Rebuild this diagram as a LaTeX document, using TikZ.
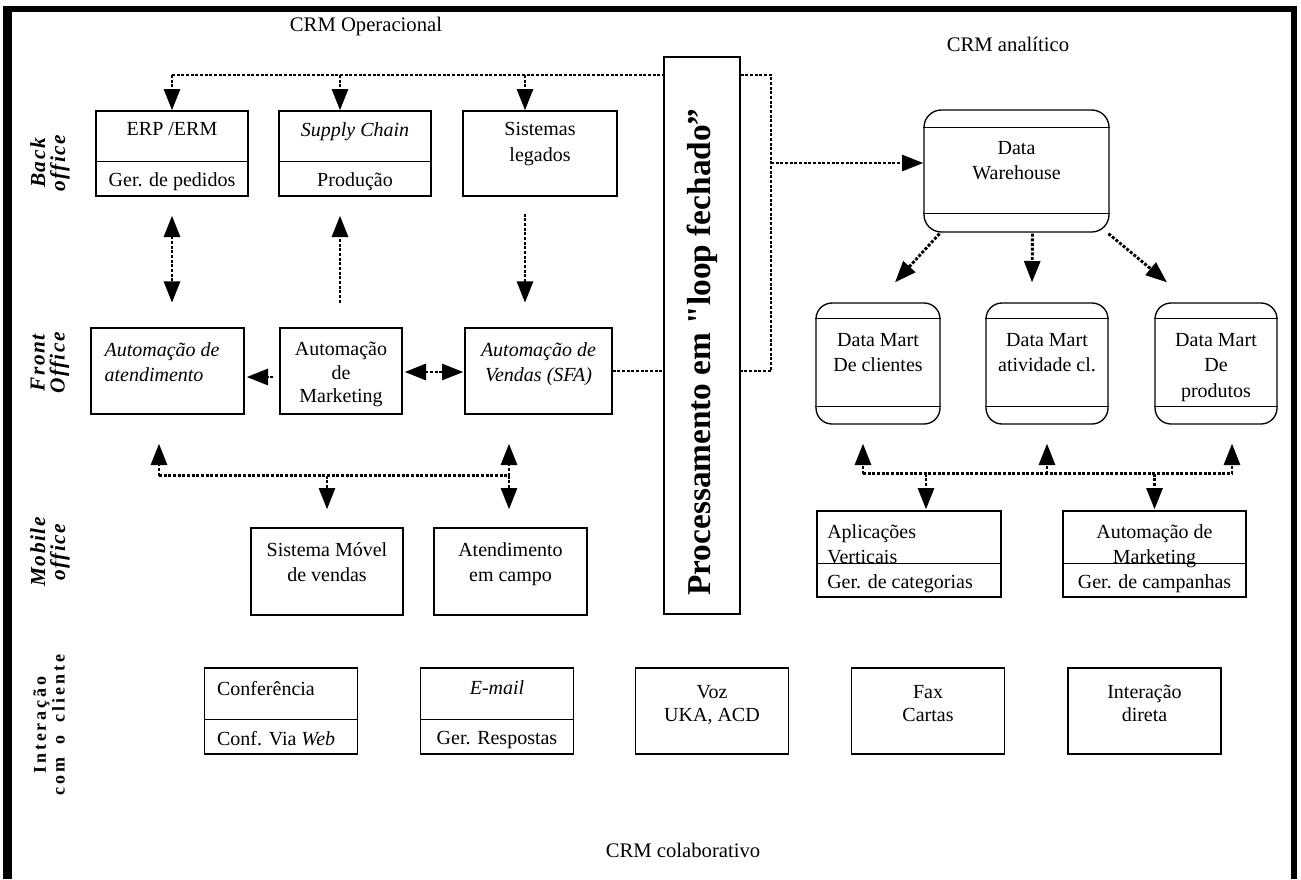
\documentclass[tikz,border=0pt]{standalone}
\usepackage{fontspec}
\setmainfont{Liberation Serif}
\newfontfamily\fonteRotulo[LetterSpace=7]{Liberation Serif}
\newfontfamily\fonteRotuloLargo[LetterSpace=16,WordSpace=1.8]{Liberation Serif}
\newfontfamily\fonteLoop[Ligatures=TeXOff]{Liberation Serif}
\usetikzlibrary{arrows.meta}
\usetikzlibrary{positioning}
\usetikzlibrary{calc}

\newcommand{\fonteCaixa}{\fontsize{15}{19}\selectfont}
\newcommand{\fonteTitulo}{\fontsize{15.5}{19}\selectfont}

\tikzset{
  caixa/.style={draw, line width=1pt, inner sep=0pt},
  divisa/.style={line width=1pt},
  texto/.style={inner sep=0pt, align=center, font=\fonteCaixa},
  pontos/.style={line width=2.2pt, dash pattern=on 2.2pt off 1.3pt},
  seta/.style={pontos, -{Triangle[length=16pt,width=12pt]}},
  setadupla/.style={pontos, {Triangle[length=16pt,width=12pt]}-{Triangle[length=16pt,width=12pt]}},
  rotulo/.style={inner sep=0pt, align=center, rotate=90, font={\fonteRotulo\fontsize{16}{15}\selectfont\bfseries\itshape}},
  rotuloLargo/.style={inner sep=0pt, align=center, rotate=90, font={\fonteRotuloLargo\fontsize{13.5}{14}\selectfont\bfseries}},
}

\begin{document}
\begin{tikzpicture}[x=0.75pt,y=0.75pt,yscale=-1,xscale=1]
\useasboundingbox (0,0) rectangle (1301,879);

%Shape: Frame
\fill (3,6) rectangle (1297,12);
\fill (3,6) rectangle (12,879);
\fill (1291,6) rectangle (1297,879);

% Text Node
\node[font=\fonteTitulo] (tOper) at (366,27) {CRM Operacional};
\node[font=\fonteTitulo] (tAnal) at (1008,44) {CRM analítico};
\node[font=\fonteTitulo] (tColab) at (683,850) {CRM colaborativo};

% Text Node
\node[rotulo] (rBack) at (50,163) {Back\\office};
\node[rotulo] (rFront) at (50,363) {Front\\Office};
\node[rotulo] (rMobile) at (50,552) {Mobile\\office};
\node[rotuloLargo] (rInter) at (49,725) {Interação\\com o cliente};

%Shape: Rectangle
\node[caixa, minimum width=114pt, minimum height=63.75pt] (erp) at (172,153.5) {};
\node[caixa, minimum width=114pt, minimum height=63.75pt] (supply) at (355,153.5) {};
\node[caixa, minimum width=115.5pt, minimum height=63.75pt] (legados) at (540,153.5) {};
\coordinate (erpD) at ($(erp.north)+(0,51)$);
\coordinate (supplyD) at ($(supply.north)+(0,51)$);
\draw[divisa] (erp.west |- erpD) -- (erp.east |- erpD);
\draw[divisa] (supply.west |- supplyD) -- (supply.east |- supplyD);
\node[texto, below=9pt of erp.north] (erpA) {ERP /ERM};
\node[texto, below=8.5pt of erpD] (erpB) {Ger. de pedidos};
\node[texto, below=9pt of supply.north] (supplyA) {\itshape Supply Chain};
\node[texto, below=8.5pt of supplyD] (supplyB) {Produção};
\node[texto, below=9pt of legados.north] (legadosT) {Sistemas\\legados};

%Shape: Rectangle
\node[caixa, minimum width=114.75pt, minimum height=64.5pt] (atend) at (167.5,371) {};
\node[caixa, minimum width=91.5pt, minimum height=64.5pt] (mkt) at (341,371) {};
\node[caixa, minimum width=110.25pt, minimum height=64.5pt] (sfa) at (538.5,371) {};
\node[texto, align=left, anchor=north west, below right=11pt and 10.5pt of atend.north west] (atendT) {\itshape Automação de\\\itshape atendimento};
\node[texto, below=11pt of mkt.north, font={\fontsize{15}{17.5}\selectfont}] (mktT) {Automação\\de\\Marketing};
\node[texto, below=11pt of sfa.north] (sfaT) {\itshape Automação de\\\itshape Vendas (SFA)};

%Shape: Rectangle
\node[caixa, minimum width=114pt, minimum height=65.25pt] (movel) at (327,571.5) {};
\node[caixa, minimum width=114.75pt, minimum height=65.25pt] (campo) at (510.5,571.5) {};
\node[texto, below=11pt of movel.north] (movelT) {Sistema Móvel\\de vendas};
\node[texto, below=11pt of campo.north] (campoT) {Atendimento\\em campo};

%Shape: Rectangle
\node[caixa, minimum width=57pt, minimum height=417.75pt] (loop) at (702,335.5) {};
\node[inner sep=0pt, rotate=90, font={\fonteLoop\fontsize{25}{25}\selectfont\bfseries}] (loopT) at (702,352) {Processamento em "loop fechado”};

%Shape: Rounded Rectangle
\node[caixa, rounded corners=13pt, minimum width=138.75pt, minimum height=91.5pt] (dw) at (1016.5,171) {};
\draw[divisa] ($(dw.north west)+(0,18)$) -- ($(dw.north east)+(0,18)$);
\draw[divisa] ($(dw.south west)+(0,-19)$) -- ($(dw.south east)+(0,-19)$);
\node[texto, below=23.5pt of dw.north] (dwT) {Data\\Warehouse};

\node[caixa, rounded corners=12pt, minimum width=93pt, minimum height=90.75pt] (dm1) at (878,363.5) {};
\node[caixa, rounded corners=12pt, minimum width=91.5pt, minimum height=90.75pt] (dm2) at (1047,363.5) {};
\node[caixa, rounded corners=12pt, minimum width=91.5pt, minimum height=90.75pt] (dm3) at (1216,363.5) {};
\foreach \m in {dm1,dm2,dm3}{
  \draw[divisa] ($(\m.north west)+(0,16)$) -- ($(\m.north east)+(0,16)$);
  \draw[divisa] ($(\m.south west)+(0,-18)$) -- ($(\m.south east)+(0,-18)$);
}
\node[texto, below=23pt of dm1.north] (dm1T) {Data Mart\\De clientes};
\node[texto, below=23pt of dm2.north] (dm2T) {Data Mart\\atividade cl.};
\node[texto, below=23pt of dm3.north] (dm3T) {Data Mart\\De\\produtos};

%Shape: Rectangle
\node[caixa, minimum width=138pt, minimum height=64.5pt] (apl) at (909,554) {};
\node[caixa, minimum width=137.25pt, minimum height=64.5pt] (amkt) at (1154.5,554) {};
\coordinate (aplD) at ($(apl.north)+(0,53)$);
\coordinate (amktD) at ($(amkt.north)+(0,53)$);
\draw[divisa] (apl.west |- aplD) -- (apl.east |- aplD);
\draw[divisa] (amkt.west |- amktD) -- (amkt.east |- amktD);
\node[texto, align=left, anchor=north west, below right=10.5pt and 8pt of apl.north west] (aplA) {Aplicações\\Verticais};
\node[texto, anchor=north west, below right=8.6pt and 8pt of apl.west |- aplD] (aplB) {Ger. de categorias};
\node[texto, below=10.5pt of amkt.north] (amktA) {Automação de\\Marketing};
\node[texto, below=8.6pt of amktD] (amktB) {Ger. de campanhas};

%Shape: Rectangle
\node[caixa, minimum width=114.75pt, minimum height=64.5pt] (conf) at (281,711) {};
\node[caixa, minimum width=114.75pt, minimum height=64.5pt] (email) at (497,711) {};
\node[caixa, minimum width=114.75pt, minimum height=64.5pt] (voz) at (712,711) {};
\node[caixa, minimum width=114.75pt, minimum height=64.5pt] (fax) at (928,711) {};
\node[caixa, minimum width=114.75pt, minimum height=64.5pt] (direta) at (1144.5,711) {};
\coordinate (confD) at ($(conf.north)+(0,52)$);
\coordinate (emailD) at ($(email.north)+(0,52)$);
\draw[divisa] (conf.west |- confD) -- (conf.east |- confD);
\draw[divisa] (email.west |- emailD) -- (email.east |- emailD);
\node[texto, anchor=north west, below right=10pt and 9.75pt of conf.north west] (confA) {Conferência};
\node[texto, anchor=north west, below right=8.6pt and 9.75pt of conf.west |- confD] (confB) {Conf. Via \textit{Web}};
\node[texto, below=10pt of email.north] (emailA) {\itshape E-mail};
\node[texto, below=8.6pt of emailD] (emailB) {Ger. Respostas};
\node[texto, below=13pt of voz.north, font={\fontsize{15}{17.5}\selectfont}] (vozT) {Voz\\UKA, ACD};
\node[texto, below=13pt of fax.north, font={\fontsize{15}{17.5}\selectfont}] (faxT) {Fax\\Cartas};
\node[texto, below=13pt of direta.north, font={\fontsize{15}{17.5}\selectfont}] (diretaT) {Interação\\direta};

%Straight Lines
\coordinate (barra) at (0,75);
\coordinate (retorno) at (771,0);
\draw[pontos] (erp.north |- barra) -- (loop.west |- barra);
\draw[pontos, line width=1.5pt] (loop.east |- barra) -- (retorno |- barra) -- (retorno |- sfa.east) -- (loop.east |- sfa.east);
\draw[pontos] (sfa.east) -- (loop.west |- sfa.east);
\draw[seta] (erp.north |- barra) -- (erp.north);
\draw[seta] ($(supply.north |- barra)+(-15,0)$) -- ($(supply.north)+(-15,0)$);
\draw[seta] ($(legados.north |- barra)+(-15,0)$) -- ($(legados.north)+(-15,0)$);
\coordinate (dwA) at ($(dw.west)+(0,-8)$);
\draw[seta] (retorno |- dwA) -- (dwA);

%Straight Lines
\draw[setadupla] ($(erp.south)+(0,19)$) -- ($(erp.south)+(0,106)$);
\draw[seta] ($(supply.south)+(-15,106)$) -- ($(supply.south)+(-15,19)$);
\draw[seta] ($(legados.south)+(-15,17)$) -- ($(legados.south)+(-15,106)$);
\draw[seta] ($(mkt.west)+(-6,6)$) -- ($(atend.east)+(2,6)$);
\draw[setadupla] ($(mkt.east)+(2,1)$) -- ($(sfa.west)+(-1,1)$);

%Straight Lines
\coordinate (aL) at ($(atend.south)+(-8.5,61)$);
\coordinate (aR) at ($(sfa.south)+(-29.5,61)$);
\draw[pontos] (aL) -- (aR);
\draw[seta] (aL) -- ($(atend.south)+(-8.5,29)$);
\draw[seta] (aR) -- ($(sfa.south)+(-29.5,29)$);
\draw[seta] (movel.north |- aL) -- ($(movel.north)+(0,-18)$);
\draw[seta] (aR) -- (aR |- {$(campo.north)+(0,-18)$});

%Straight Lines
\draw[seta] ($(dw.south)+(-77,1)$) -- ($(dm1.north)+(17,-20)$);
\draw[seta] ($(dw.south)+(16,1)$) -- ($(dm2.north)+(-15,-20)$);
\draw[seta] ($(dw.south)+(92,1)$) -- ($(dm3.north)+(-49,-20)$);
\coordinate (bL) at ($(dm1.south)+(-15,49)$);
\coordinate (bM) at ($(dm2.south)+(0,49)$);
\coordinate (bR) at ($(dm3.south)+(16,49)$);
\draw[pontos] (bL) -- (bR);
\draw[seta] (bL) -- ($(dm1.south)+(-15,19)$);
\draw[seta] (bM) -- ($(dm2.south)+(0,19)$);
\draw[seta] (bR) -- ($(dm3.south)+(16,19)$);
\draw[seta] ($(apl.north |- bL)+(17,0)$) -- ($(apl.north)+(17,-1)$);
\draw[seta] (amkt.north |- bL) -- ($(amkt.north)+(0,-1)$);
\end{tikzpicture}
\end{document}
